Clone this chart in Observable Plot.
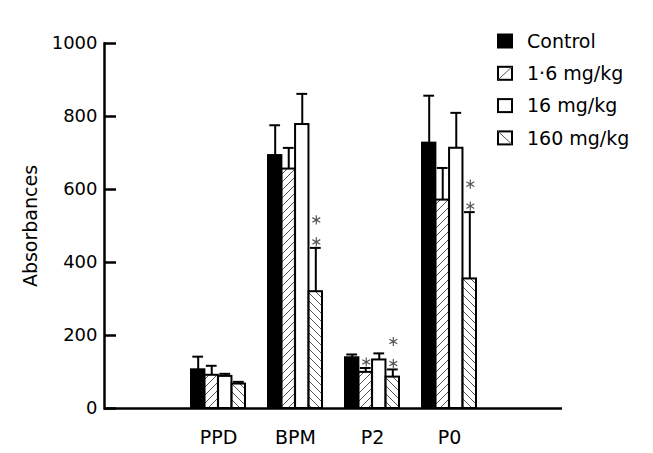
<!DOCTYPE html>
<html><head><meta charset="utf-8">
<script src="https://cdn.jsdelivr.net/npm/d3@7"></script>
<script src="https://cdn.jsdelivr.net/npm/@observablehq/plot@0.6"></script>
<style>
body{margin:0;background:#fff}
#wrap{position:relative;width:653px;height:453px}
#legend{position:absolute;left:0;top:0;pointer-events:none}
</style>
</head><body><div id="wrap"></div>
<script>
const categories = ["PPD", "BPM", "P2", "P0"];
const seriesNames = ["Control", "1·6 mg/kg", "16 mg/kg", "160 mg/kg"];
const controlMean = [106, 693, 139, 727];
const controlSem  = [36, 83, 9, 130];
const lowMean  = [91, 656, 99, 571];
const lowSem   = [26, 58, 12, 88];
const midMean  = [88, 778, 133, 713];
const midSem   = [7, 84, 18, 97];
const highMean = [67, 320, 86, 355];
const highSem  = [6, 120, 21, 183];
const controlStars = [0, 0, 0, 0];
const lowStars  = [0, 0, 1, 0];
const midStars  = [0, 0, 0, 0];
const highStars = [0, 2, 2, 2];
const yTicks = [0, 200, 400, 600, 800, 1000];

const means = [controlMean, lowMean, midMean, highMean];
const sems = [controlSem, lowSem, midSem, highSem];
const stars = [controlStars, lowStars, midStars, highStars];
const fills = ["black", "url(#hatchUp)", "white", "url(#hatchDown)"];

const W = 653, H = 453, ml = 104, mr = 91, mt = 43, mb = 45;
const pi = 0.3, po = 1.11;
const step = (W - ml - mr) / (categories.length - pi + 2 * po);
const sub = step * (1 - pi) / seriesNames.length;
const n = seriesNames.length;

const rows = seriesNames.map((s, j) => categories.map((c, i) => ({
  cat: c, series: s, j, value: means[j][i], top: means[j][i] + sems[j][i], stars: stars[j][i]
})));

const marks = [];
rows.forEach((data, j) => {
  const dx = (j - (n - 1) / 2) * sub;
  marks.push(Plot.ruleX(data, {x: "cat", y1: "value", y2: "top", dx, stroke: "black", strokeWidth: 2}));
  marks.push(Plot.tickY(data, {x: "cat", y: "top", insetLeft: j * sub + 1.3, insetRight: (n - 1 - j) * sub + 1.3, stroke: "black", strokeWidth: 2}));
  marks.push(Plot.barY(data, {x: "cat", y: "value", fill: fills[j], stroke: "black", strokeWidth: 2, insetLeft: j * sub, insetRight: (n - 1 - j) * sub}));
  const starRows = data.flatMap(d => d3.range(d.stars).map(k => ({...d, k})));
  [0, 1].forEach(k => {
    marks.push(Plot.dot(starRows.filter(d => d.k === k), {x: "cat", y: "top", symbol: "asterisk", r: 4.3, dx: dx + 0.5, dy: -6 - k * 22, stroke: "#555", strokeWidth: 1.2}));
  });
});

const svg = Plot.plot({
  width: W, height: H,
  marginLeft: ml, marginRight: mr, marginTop: mt, marginBottom: mb,
  style: {fontFamily: "DejaVu Sans", fontSize: "19px", color: "black", background: "white"},
  x: {domain: categories, paddingInner: pi, paddingOuter: po},
  y: {domain: [0, 1000]},
  marks: [
    ...marks,
    Plot.ruleY([0], {stroke: "black", strokeWidth: 2.5}),
    Plot.frame({anchor: "left", stroke: "black", strokeWidth: 2.5}),
    Plot.tickY(yTicks, {y: d => d, insetRight: W - ml - mr - 12, stroke: "black", strokeWidth: 2.5}),
    Plot.axisX({tickSize: 0, tickPadding: 22, label: null}),
    Plot.axisY({ticks: yTicks, tickSize: 0, tickPadding: 7, fontSize: 18, tickFormat: d => String(d), label: null}),
    Plot.text(["Absorbances"], {frameAnchor: "left", dx: -74, rotate: -90, fontSize: 19, text: d => d, textAnchor: "middle", lineAnchor: "middle"})
  ]
});

svg.insertAdjacentHTML("afterbegin", `<defs>
<pattern id="hatchUp" patternUnits="userSpaceOnUse" width="8" height="8">
<rect width="8" height="8" fill="white"/>
<path d="M-2,10 L10,-2 M-2,2 L2,-2 M6,10 L10,6" stroke="#555" stroke-width="1"/>
</pattern>
<pattern id="hatchDown" patternUnits="userSpaceOnUse" width="8" height="8">
<rect width="8" height="8" fill="white"/>
<path d="M-2,-2 L10,10 M-2,6 L2,10 M6,-2 L10,2" stroke="#555" stroke-width="1"/>
</pattern>
</defs>`);

const wrap = document.getElementById("wrap");
wrap.appendChild(svg);

// legend
const lx = 497, ly0 = 41, lstep = 32.3;
const legend = d3.create("svg").attr("id", "legend").attr("width", W).attr("height", H);
seriesNames.forEach((s, j) => {
  const cy = ly0 + j * lstep;
  const g = legend.append("g");
  g.append("rect").attr("x", lx + 1).attr("y", cy - 6.5).attr("width", 14).attr("height", 13)
    .attr("fill", j === 0 ? "black" : "white").attr("stroke", "black").attr("stroke-width", 2);
  if (j === 1) g.append("line").attr("x1", lx + 1).attr("y1", cy + 6.5).attr("x2", lx + 15).attr("y2", cy - 6.5).attr("stroke", "#555").attr("stroke-width", 1);
  if (j === 3) g.append("line").attr("x1", lx + 1).attr("y1", cy - 6.5).attr("x2", lx + 15).attr("y2", cy + 6.5).attr("stroke", "#555").attr("stroke-width", 1);
  g.append("text").attr("x", 527).attr("y", cy).attr("dy", "0.36em")
    .attr("font-family", "DejaVu Sans").attr("font-size", 19).attr("fill", "black").text(s);
});
wrap.appendChild(legend.node());
</script></body></html>
